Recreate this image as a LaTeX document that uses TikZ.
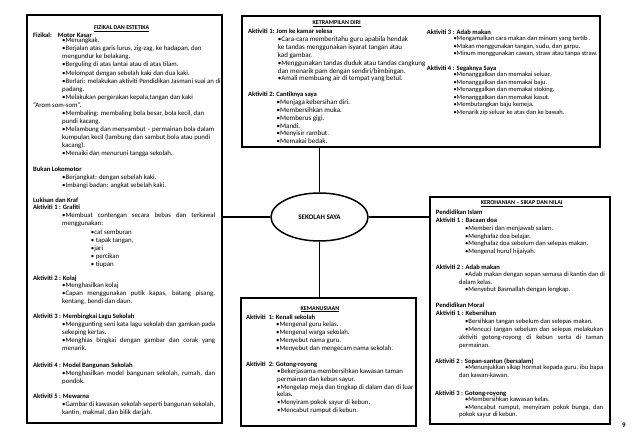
\documentclass[tikz,border=0pt]{standalone}
\usepackage{fontspec}
\setmainfont{Carlito}
\usetikzlibrary{shapes.geometric}
\newcommand{\jst}[2]{\makebox[#1][s]{#2}}
\tikzset{
  box/.style={draw, line width=1.5pt, inner sep=0pt},
  link/.style={line width=1.5pt},
  txt/.style={anchor=north west, align=left, inner sep=0pt, yshift=0.6pt, font=\fontsize{7}{7.8}\selectfont},
  btxt/.style={txt, font=\fontsize{6.8}{7.8}\selectfont},
  ltxt/.style={txt, font=\fontsize{6.8}{8.05}\selectfont},
  ttxt/.style={txt, font=\fontsize{6.5}{7.5}\selectfont},
  rtxt/.style={txt, font=\fontsize{6.6}{7.6}\selectfont},
  mtxt/.style={txt, font=\fontsize{6.6}{7.8}\selectfont},
  ttl/.style={txt, yshift=-0.4pt, font=\bfseries\fontsize{6.6}{7.6}\selectfont},
  head/.style={inner sep=0pt, font=\bfseries\fontsize{6}{6.5}\selectfont}
}
\begin{document}
\begin{tikzpicture}[x=1pt,y=-1pt]
  \useasboundingbox (0,0) rectangle (638,442);
  \path (124.5,219) node (fizbox) [box, minimum width=195pt, minimum height=408pt] {};
  \path (421,81.5) node (dirbox) [box, minimum width=358pt, minimum height=131pt] {};
  \path (520,310.5) node (rohbox) [box, minimum width=180pt, minimum height=227pt] {};
  \path (328.5,362) node (manbox) [box, minimum width=175pt, minimum height=128pt] {};
  \path (319.5,217) node (sekolah) [ellipse, draw, line width=1.5pt, minimum width=97pt, minimum height=48pt, font=\bfseries\fontsize{7}{8}\selectfont] {SEKOLAH SAYA};

  \draw[link] (sekolah.west) -- (sekolah.west -| fizbox.east);
  \draw[link] (sekolah.north) -- (sekolah.north |- dirbox.south);
  \draw[link] (sekolah.east) -- (sekolah.east -| rohbox.west);
  \draw[link] (sekolah.south) -- (sekolah.south |- manbox.north);

  \path (121.7,29) node (fizhd) [head] {\underline{FIZIKAL DAN ESTETIKA}};
  \path (33,32.5) node (fizttl) [ttl] {Fizikal:\hspace{6pt}Motor Kasar};
  \path (62,38.5) node (fizlst) [ltxt] {•Menangkak.\\
    •Berjalan atas garis lurus, zig-zag, ke hadapan,  dan\\
    mengundur ke belakang.\\
    •Berguling di atas lantai atau di atas tilam.\\
    •Melompat dengan sebelah kaki dan dua kaki.\\
    •Berlari: melakukan aktiviti Pendidikan Jasmani suai an di\\
    padang.\\
    •Melakukan pergerakan kepala,tangan dan kaki\\
    \hspace*{-29pt}“Arom som-som”.\\
    •Membaling: membaling bola besar, bola kecil, dan\\
    pundi kacang.\\
    •Melambung dan menyambut – permainan bola dalam\\
    kumpulan kecil (lambung dan sambut bola atau pundi\\
    kacang).\\
    •Menaiki dan menuruni tangga sekolah.};
  \path (33,166.8) node (lokttl) [ttl] {Bukan Lokomotor};
  \path (62,175.2) node (loklst) [ltxt] {•Berjangkat: dengan sebelah kaki.\\
    •Imbangi badan: angkat sebelah kaki.};
  \path (33,197.5) node (lukttl) [ttl] {Lukisan dan Kraf\\Aktiviti 1 : Grafiti};
  \path (62,213.5) node (luklst) [ltxt] {\jst{153pt}{•Membuat contengan secara bebas dan terkawal}\\
    menggunakan:};
  \path (90.7,229.8) node (luksub) [ltxt] {•cat semburan\\• tapak tangan,\\•jari\\• percikan\\• tiupan};
  \path (33,276.2) node (kolttl) [ttl] {Aktiviti 2 : Kolaj};
  \path (62,283.5) node (kollst) [ltxt] {•Menghasilkan kolaj\\
    \jst{153pt}{•Capan menggunakan putik kapas, batang pisang,}\\
    kentang, bendi dan daun.};
  \path (33,314.2) node (lagttl) [ttl] {Aktiviti 3 : Membingkai Lagu Sekolah};
  \path (62,321.8) node (laglst) [ltxt] {\jst{153pt}{•Menggunting seni kata lagu sekolah dan gamkan pada}\\
    sekeping kertas.\\
    \jst{153pt}{•Menghias bingkai dengan gambar dan corak yang}\\
    menarik.};
  \path (33,362.5) node (modttl) [ttl] {Aktiviti 4 : Model Bangunan Sekolah};
  \path (62,370.8) node (modlst) [ltxt] {\jst{153pt}{•Menghasilkan model bangunan sekolah, rumah, dan}\\
    pondok.};
  \path (33,394.2) node (warttl) [ttl] {Aktiviti 5 : Mewarna};
  \path (62,402.5) node (warlst) [ltxt] {\jst{153pt}{•Gambar di kawasan sekolah seperti bangunan sekolah,}\\
    kantin, makmal, dan bilik darjah.};

  \path (336.7,24) node (dirhd) [head] {\underline{KETRAMPILAN DIRI}};
  \path (248,29.2) node (jomttl) [ttl] {Aktiviti 1: Jom ke kamar selesa};
  \path (277.7,37.5) node (jomlst) [txt] {•Cara-cara memberitahu guru apabila hendak\\
    ke tandas menggunakan isyarat tangan atau\\
    kad gambar.\\
    •Menggunakan tandas duduk atau tandas cangkung\\
    dan menarik pam dengan sendiri/bimbingan.\\
    •Amali membuang air di tempat yang betul.};
  \path (248,91.8) node (cntttl) [ttl] {Aktiviti 2: Cantiknya saya};
  \path (276.5,100.2) node (cntlst) [txt] {•Menjaga kebersihan diri.\\
    •Membersihkan muka.\\
    •Memberus gigi.\\
    •Mandi.\\
    •Menyisir rambut.\\
    •Memakai bedak.};
  \path (426.7,29.8) node (adbttl) [ttl] {Aktiviti 3 : Adab makan};
  \path (453.3,36.8) node (adblst) [ttxt] {•Mengamalkan  cara makan dan minum yang tertib .\\
    •Makan menggunakan tangan,  sudu,  dan garpu.\\
    •Minum menggunakan cawan, straw atau tanpa straw.};
  \path (426.7,65.8) node (sgkttl) [ttl] {Aktiviti 4 : Segaknya Saya};
  \path (453.3,72.5) node (sgklst) [ttxt] {•Menanggalkan dan memakai seluar.\\
    •Menanggalkan dan memakai baju.\\
    •Menanggalkan dan memakai stoking.\\
    •Menanggalkan dan memakai kasut.\\
    •Membutangkan baju kemeja.\\
    •Menarik zip seluar ke atas dan ke bawah.};

  \path (521.7,204) node (rohhd) [head] {\underline{KEROHANIAN – SIKAP DAN NILAI}};
  \path (435.7,210.2) node (islttl) [ttl] {Pendidikan Islam\\Aktiviti 1 : Bacaan doa};
  \path (459,226.5) node (isllst) [rtxt] {\hspace*{6pt}•Memberi dan menjawab salam.\\
    \hspace*{6pt}•Menghafaz doa belajar.\\
    \hspace*{6pt}•Menghafaz doa sebelum dan selepas makan.\\
    \hspace*{6pt}•Mengenal huruf hijaiyah.};
  \path (435.7,264.8) node (adb2ttl) [ttl] {Aktiviti 2 : Adab makan};
  \path (459,272.5) node (adb2lst) [rtxt] {\hspace*{6pt}•Adab makan dengan sopan semasa di kantin dan di\\
    dalam kelas.\\
    \hspace*{6pt}•Menyebut Basmallah dengan lengkap.};
  \path (435.7,303.2) node (morttl) [ttl] {Pendidikan Moral\\Aktiviti 1 : Kebersihan};
  \path (459,319.8) node (morlst) [mtxt] {\hspace*{6pt}•Bersihkan tangan sebelum dan selepas makan.\\
    \hspace*{6pt}\jst{138pt}{•Mencuci tangan sebelum dan selepas melakukan}\\
    \jst{144pt}{aktiviti gotong-royong di kebun serta di taman}\\
    permainan.};
  \path (435,358.5) node (sopttl) [ttl] {Aktiviti 2 : Sopan-santun (bersalam)};
  \path (459,365.8) node (soplst) [mtxt] {\hspace*{6pt}\jst{138pt}{•Menunjukkan sikap hormat kepada guru, ibu bapa}\\
    dan  kawan-kawan.};
  \path (435,390.8) node (gotttl) [ttl] {Aktiviti 3 : Gotong-royong};
  \path (459,397.5) node (gotlst) [rtxt] {\hspace*{6pt}•Membersihkan kawasan kelas.\\
    \hspace*{6pt}\jst{138pt}{•Mencabut rumput, menyiram pokok bunga, dan}\\
    pokok sayur di kebun.};

  \path (320,309.3) node (manhd) [head] {\underline{KEMANUSIAAN}};
  \path (246,314.5) node (kenttl) [ttl] {Aktiviti \ 1: Kenali sekolah};
  \path (276,322.5) node (kenlst) [btxt] {•Mengenal guru kelas.\\
    •Mengenal warga sekolah.\\
    •Menyebut nama guru.\\
    •Menyebut dan mengecam nama sekolah.};
  \path (246,361.5) node (got2ttl) [ttl] {Aktiviti \ 2: Gotong-royong};
  \path (277,369.2) node (got2lst) [btxt] {•Bekerjasama membersihkan kawasan taman\\
    permainan dan kebun sayur.\\
    •Mengelap meja dan tingkap di dalam dan di luar\\
    kelas.\\
    •Menyiram pokok sayur di kebun.\\
    •Mencabut rumput di kebun.};

  \path (624,425) node (pgno) [font=\bfseries\fontsize{7}{8}\selectfont] {9};
\end{tikzpicture}
\end{document}
